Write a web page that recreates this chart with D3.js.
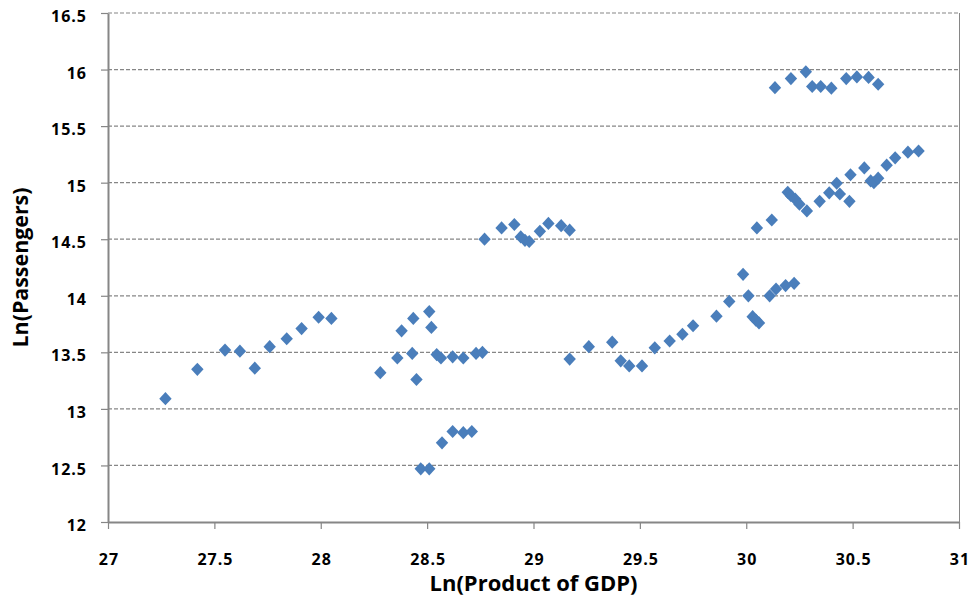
<!DOCTYPE html>
<html><head><meta charset="utf-8">
<script src="https://cdn.jsdelivr.net/npm/d3@7"></script>
<style>body{margin:0;background:#fff}svg{display:block}</style>
</head><body>
<svg id="chart" width="974" height="602"></svg>
<script>
const lnGDP = [27.27,27.42,27.55,27.62,27.69,27.76,27.84,27.91,27.99,28.05,
  28.28,28.36,28.38,28.43,28.435,28.45,28.51,28.52,28.545,28.565,28.62,28.67,28.73,28.76,
  28.47,28.51,28.57,28.62,28.67,28.71,
  28.77,28.85,28.91,28.94,28.96,28.98,29.03,29.07,29.13,29.17,
  29.17,29.26,29.37,29.41,29.45,29.51,29.57,29.64,29.70,29.75,29.86,29.92,
  29.985,30.01,30.03,30.045,30.06,30.11,30.14,30.185,30.225,
  30.135,30.21,30.28,30.31,30.35,30.40,30.47,30.52,30.575,30.62,
  30.05,30.12,30.195,30.21,30.23,30.25,30.285,30.345,30.39,30.425,30.44,30.485,30.49,
  30.555,30.585,30.60,30.62,30.66,30.70,30.76,30.81];
const lnPassengers = [13.09,13.35,13.52,13.51,13.36,13.55,13.62,13.71,13.81,13.80,
  13.32,13.45,13.69,13.49,13.80,13.26,13.86,13.72,13.48,13.45,13.46,13.45,13.49,13.50,
  12.47,12.47,12.70,12.80,12.79,12.80,
  14.50,14.60,14.63,14.52,14.49,14.48,14.57,14.64,14.62,14.58,
  13.44,13.55,13.59,13.425,13.38,13.38,13.54,13.60,13.66,13.735,13.82,13.95,
  14.19,14.00,13.815,13.785,13.76,14.00,14.06,14.09,14.11,
  15.84,15.92,15.98,15.85,15.85,15.835,15.92,15.935,15.93,15.87,
  14.60,14.67,14.915,14.885,14.855,14.81,14.75,14.835,14.91,14.995,14.90,14.835,15.07,
  15.13,15.015,15.00,15.04,15.155,15.22,15.27,15.28];
const xTicks = [27,27.5,28,28.5,29,29.5,30,30.5,31];
const yTicks = [12,12.5,13,13.5,14,14.5,15,15.5,16,16.5];
const xTitle = "Ln(Product of GDP)";
const yTitle = "Ln(Passengers)";

const L = 108, R = 959, T = 13, B = 522;
const svg = d3.select("#chart");
const x = d3.scaleLinear().domain([27,31]).range([L,R]);
const y = d3.scaleLinear().domain([12,16.5]).range([B,T]);
const grey = "#868686";
const font = "'Open Sans', 'DejaVu Sans', sans-serif";

// gridlines
svg.append("g").selectAll("line").data(yTicks.filter(d=>d>12)).join("line")
  .attr("x1",L).attr("x2",R).attr("y1",d=>y(d)).attr("y2",d=>y(d))
  .attr("stroke",grey).attr("stroke-width",1.2).attr("stroke-dasharray","4,2");
// right border
svg.append("line").attr("x1",R+0.5).attr("x2",R+0.5).attr("y1",T).attr("y2",B)
  .attr("stroke",grey).attr("stroke-width",1);

// axes
const xAxis = svg.append("g").attr("transform",`translate(0,${B})`)
  .call(d3.axisBottom(x).tickValues(xTicks).tickFormat(d3.format("")).tickSize(7).tickSizeOuter(0));
const yAxis = svg.append("g").attr("transform",`translate(${L},0)`)
  .call(d3.axisLeft(y).tickValues(yTicks).tickFormat(d3.format("")).tickSize(7).tickSizeOuter(0));
[xAxis,yAxis].forEach(a=>{
  a.select(".domain").attr("stroke",grey).attr("stroke-width",2);
  a.selectAll(".tick line").attr("stroke",grey).attr("stroke-width",1.2);
  a.selectAll("text").attr("fill","#000").style("font-family",font)
    .style("font-weight","bold").style("font-size","16px").style("letter-spacing","1px");
});
xAxis.selectAll("text").attr("dy",null).attr("y",43).attr("dx","0.5px");
yAxis.selectAll("text").attr("x",-21).attr("dy","0.54em");

// points
const diamond = "M0,-6.6L6.2,0L0,6.6L-6.2,0Z";
svg.append("g").selectAll("path").data(lnGDP.map((d,i)=>[d,lnPassengers[i]])).join("path")
  .attr("d",diamond)
  .attr("transform",d=>`translate(${x(d[0])},${y(d[1])})`)
  .attr("fill","#4a7ebb");

// titles
svg.append("text").text(xTitle).attr("x",(L+R)/2).attr("y",591)
  .attr("text-anchor","middle").style("font-family",font).style("font-weight","bold")
  .style("font-size","21px").attr("textLength",208).attr("lengthAdjust","spacingAndGlyphs");
svg.append("text").text(yTitle).attr("transform",`translate(28,${(T+B)/2}) rotate(-90)`)
  .attr("text-anchor","middle").style("font-family",font).style("font-weight","bold")
  .style("font-size","21px").attr("textLength",160).attr("lengthAdjust","spacingAndGlyphs");
</script>
</body></html>
